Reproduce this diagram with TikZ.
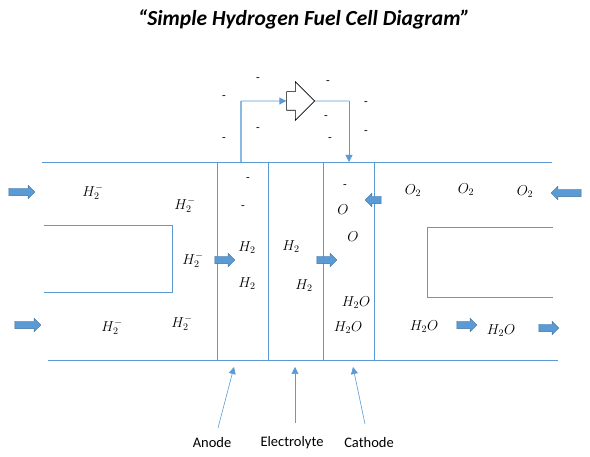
\documentclass[tikz,border=0pt]{standalone}
\usepackage{fontspec}
\setmainfont{Carlito}
\usetikzlibrary{shapes.arrows,arrows.meta}
\definecolor{lineblue}{HTML}{5B9BD5}
\definecolor{fillblue}{HTML}{5B9BD5}
\definecolor{edgeblue}{HTML}{41719C}
\tikzset{
  wall/.style={draw=lineblue, line width=0.8pt},
  flow/.style={single arrow, draw=edgeblue, fill=fillblue, line width=0.4pt,
    inner sep=0pt, minimum height=#1, text height=7pt, text depth=0pt, text width=0pt,
    single arrow head extend=3pt, single arrow head indent=0pt},
  chem/.style={font=\fontsize{14}{16}\selectfont, inner sep=0pt},
  elec/.style={font=\fontsize{12}{14}\selectfont, inner sep=0pt},
  lbl/.style={font=\fontsize{14.5}{17}\selectfont, inner sep=0pt},
  wire/.style={draw=lineblue, line width=0.8pt},
  tip/.style={-{Triangle[length=7pt,width=7pt]}}
}
\begin{document}
\begin{tikzpicture}[x=1pt,y=-1pt]
\useasboundingbox (0,0) rectangle (590,457);
% title
\node (title) at (304,19) {\fontsize{21.5}{25}\selectfont\bfseries\itshape “Simple Hydrogen Fuel Cell Diagram”};
% housing lines
\draw[wall] (42,162) -- (552,162);
\draw[wall] (48,360) -- (558,360);
\foreach \x in {217,268,323,374} \draw[wall] (\x,162) -- (\x,360);
\draw[wall] (44,225) -- (172,225) -- (172,292) -- (44,292);
\draw[wall] (553,227) -- (427,227) -- (427,297) -- (553,297);
% circuit
\coordinate (cA) at (241,162);
\coordinate (cA2) at (241,101);
\node[draw=black, line width=0.6pt, single arrow, inner sep=0pt, minimum height=28pt,
  single arrow head extend=10pt, single arrow head indent=0pt, fill=white,
  text height=18pt, text depth=0pt, text width=0pt] (load) at (296,101) {};
\coordinate (cC2) at (349,101);
\coordinate (cC) at (349,162);
\draw[wire, draw=lineblue!70, line width=1.4pt] (cA) -- (cA2);
\draw[wire, tip] (cA2) -- (load.west);
\draw[wire] (load.east) -- (cC2);
\draw[wire, tip] (cC2) -- (cC);
% electrons
\foreach \p/\n in {{258,80}/e1,{224,98}/e2,{258,130}/e3,{224,140}/e4,{328,83}/e5,{366,104}/e6,{326,118}/e7,{330,140}/e8,{366,133}/e9,{248,180}/e10,{243,208}/e11,{345,187}/e12}
  \node[elec] (\n) at (\p) {-};
% flow arrows
\node[flow=26pt] (f1) at (20,192) {};
\node[flow=26pt] (f2) at (26,325) {};
\node[flow=20pt] (f3) at (223,260) {};
\node[flow=20pt] (f4) at (325,260) {};
\node[flow=16pt, shape border rotate=180] (f5) at (375,200) {};
\node[flow=30pt, shape border rotate=180] (f6) at (568,193) {};
\node[flow=20pt] (f7) at (465,325) {};
\node[flow=20pt] (f8) at (547,328) {};
% chemistry labels
\node[chem] (h1) at (93,192) {$H_2^-$};
\node[chem] (h2) at (185,205) {$H_2^-$};
\node[chem] (h3) at (193,260) {$H_2^-$};
\node[chem] (h4) at (112,327) {$H_2^-$};
\node[chem] (h5) at (182,323) {$H_2^-$};
\node[chem] (h6) at (247,248) {$H_2$};
\node[chem] (h7) at (247,284) {$H_2$};
\node[chem] (h8) at (291,247) {$H_2$};
\node[chem] (h9) at (304,286) {$H_2$};
\node[chem] (o1) at (343,210) {$O$};
\node[chem] (o2) at (353,237) {$O$};
\node[chem] (w1) at (356,303) {$H_2O$};
\node[chem] (w2) at (348,328) {$H_2O$};
\node[chem] (o3) at (413,191) {$O_2$};
\node[chem] (o4) at (466,190) {$O_2$};
\node[chem] (o5) at (525,192) {$O_2$};
\node[chem] (w3) at (424,327) {$H_2O$};
\node[chem] (w4) at (501,331) {$H_2O$};
% bottom labels
\node[lbl] (anode) at (212,443) {Anode};
\node[lbl] (electrolyte) at (292,443) {Electrolyte};
\node[lbl] (cathode) at (369,443) {Cathode};
\coordinate (pA) at (234,367);
\coordinate (pE) at (295,367);
\coordinate (pC) at (353,367);
\coordinate (sA) at (218,428);
\coordinate (sE) at (295,423);
\coordinate (sC) at (365,424);
\draw[wire, line width=0.6pt, tip] (sA) -- (pA);
\draw[wire, line width=0.6pt, tip] (sE) -- (pE);
\draw[wire, line width=0.6pt, tip] (sC) -- (pC);
\end{tikzpicture}
\end{document}
